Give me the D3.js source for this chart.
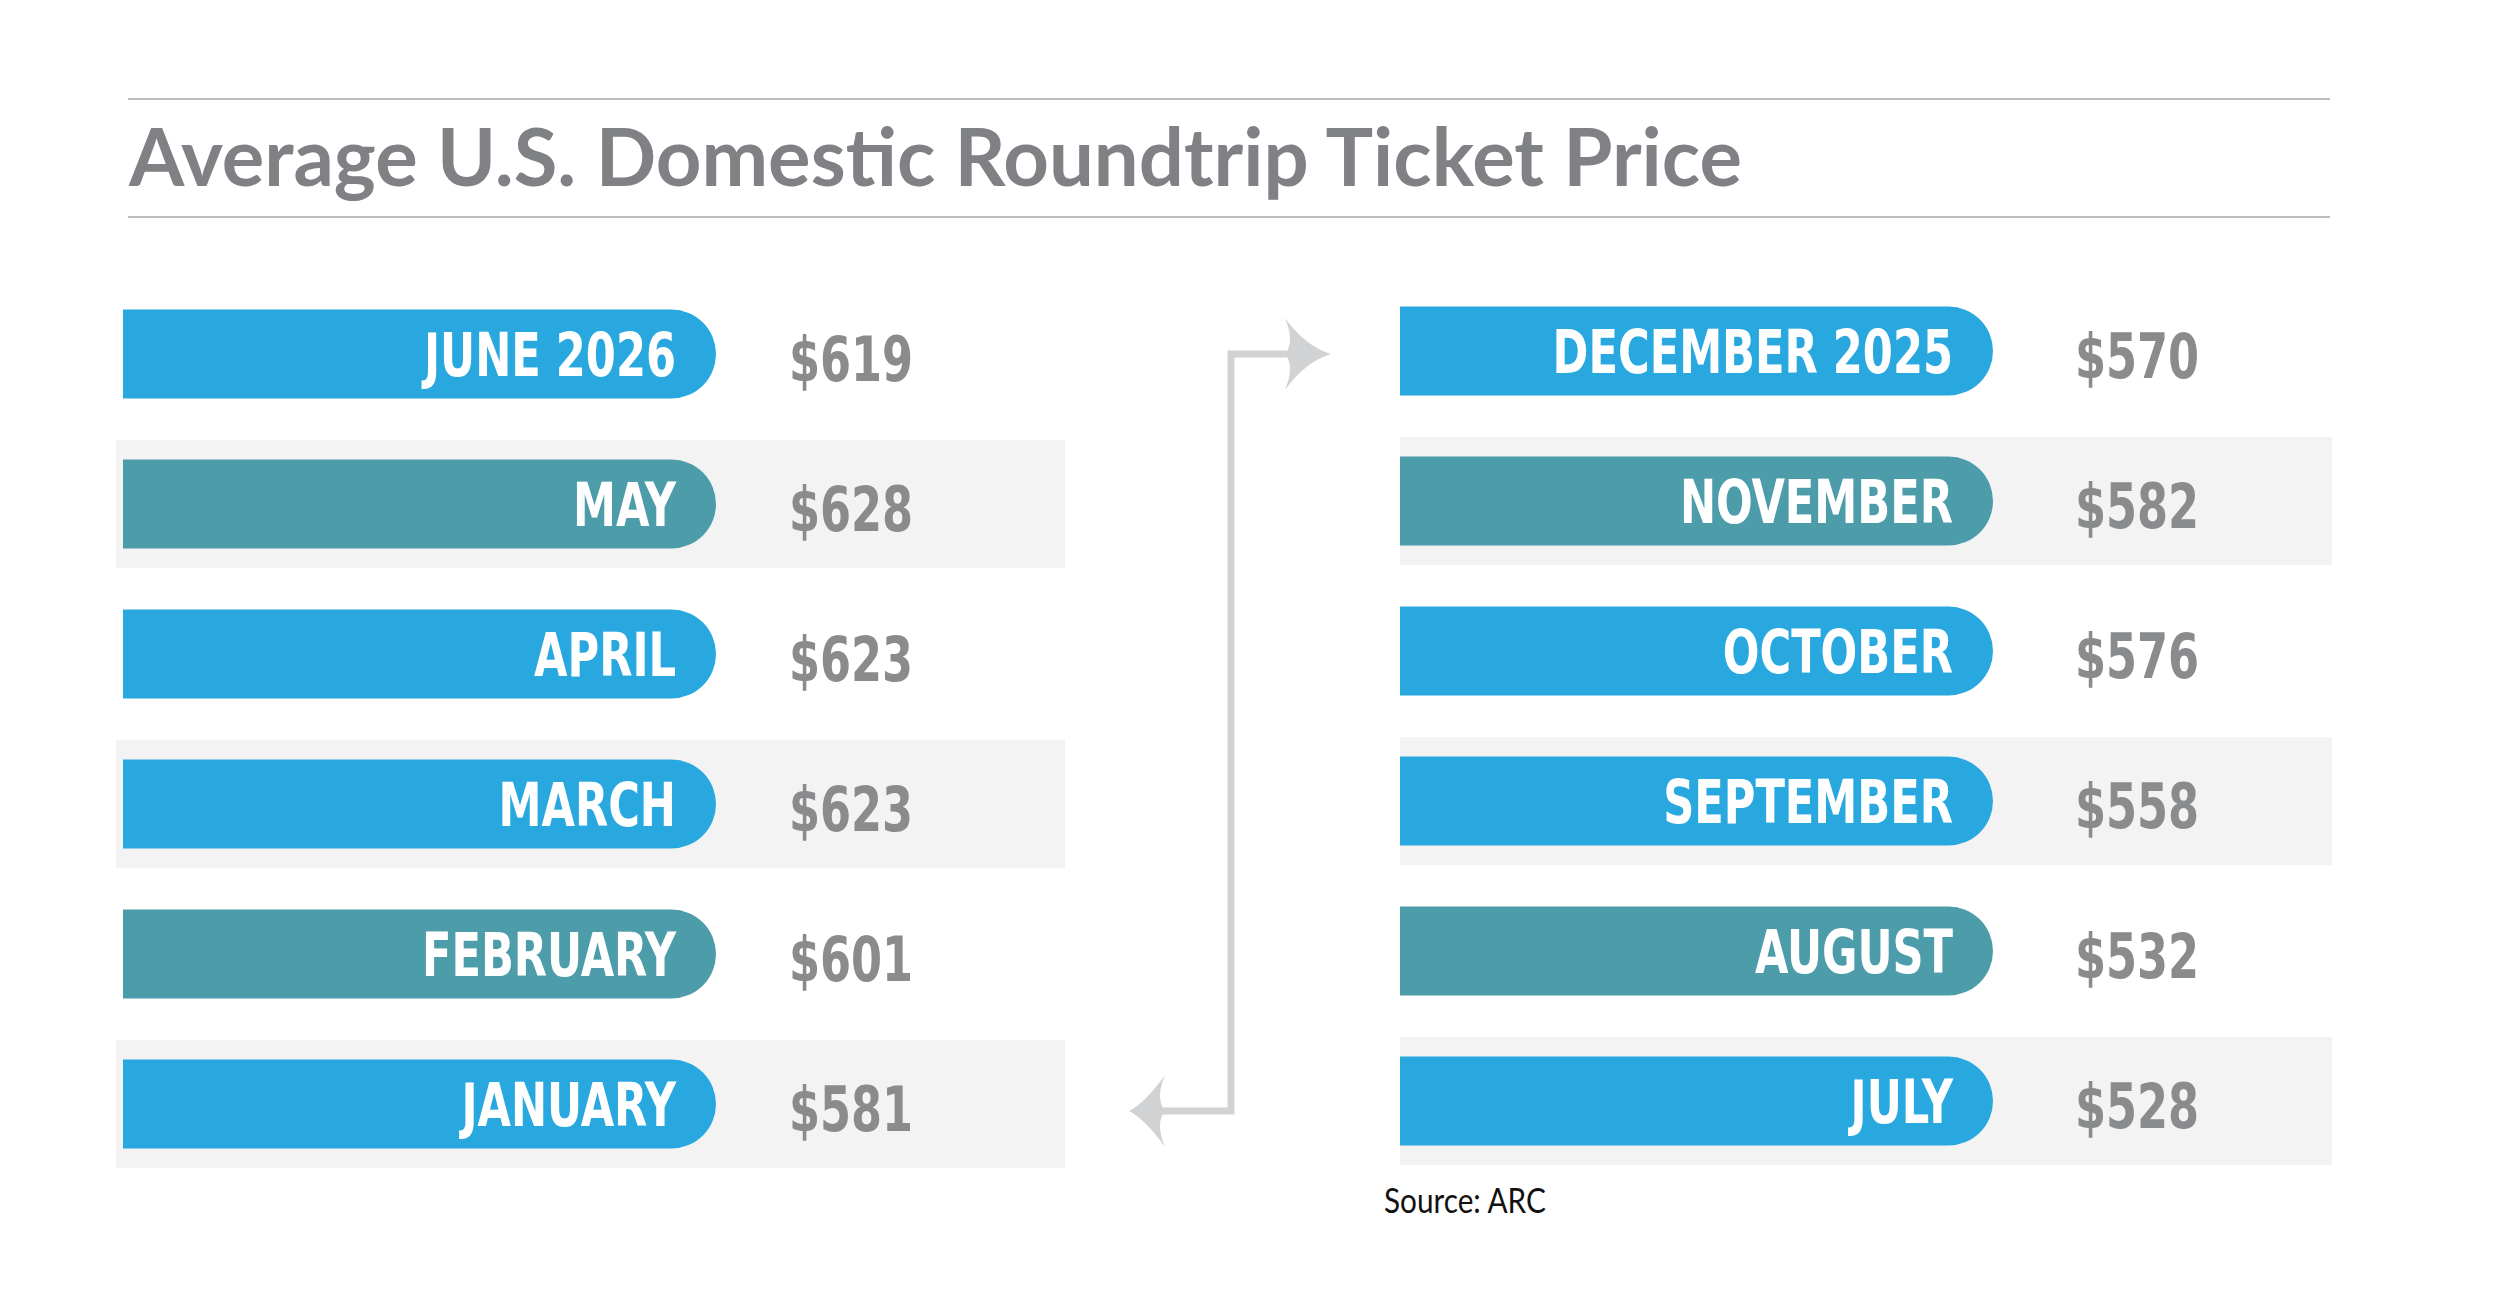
<!DOCTYPE html>
<html>
<head>
<meta charset="utf-8">
<script src="https://cdn.jsdelivr.net/npm/d3@7"></script>
<style>
  body { margin: 0; background: #fff; }
</style>
</head>
<body>
<svg id="chart"></svg>
<script>
// data, newest first in each column
const leftMonths = ['JUNE 2026', 'MAY', 'APRIL', 'MARCH', 'FEBRUARY', 'JANUARY'];
const leftPrices = [619, 628, 623, 623, 601, 581];
const rightMonths = ['DECEMBER 2025', 'NOVEMBER', 'OCTOBER', 'SEPTEMBER', 'AUGUST', 'JULY'];
const rightPrices = [570, 582, 576, 558, 532, 528];
const tealRows = [1, 4];

const W = 2500, H = 1292;
const BLUE = '#29a8e0', TEAL = '#4c9caa', BAND = '#f3f3f4';
const COND = '"DejaVu Sans Condensed", "DejaVu Sans", sans-serif';

const svg = d3.select('#chart').attr('width', W).attr('height', H);

// header rules + title
[99, 217].forEach(y => {
  svg.append('line').attr('x1', 128).attr('x2', 2330).attr('y1', y).attr('y2', y)
    .style('stroke', '#bcbdc0').style('stroke-width', 2);
});
svg.append('text').attr('x', 129).attr('y', 186)
  .style('font-family', 'Lato').style('font-weight', 700).style('font-size', '80px')
  .style('fill', '#808184').attr('textLength', 1613).attr('lengthAdjust', 'spacingAndGlyphs')
  .text('Average U.S. Domestic Roundtrip Ticket Price');

const rows = d3.scaleBand().domain(d3.range(6)).range([279, 1179]);

const barPath = (x0, x1, y, h) => {
  const r = h / 2;
  return `M${x0},${y}H${x1 - r}A${r},${r} 0 0 1 ${x1 - r},${y + h}H${x0}Z`;
};

// condensed text: squeeze horizontally around its anchor point
const squeezed = (g, cls, data, x, y, sx) => g.selectAll('.' + cls).data(data).enter()
  .append('g').attr('transform', d => `translate(${x},${y(d)}) scale(${sx},1)`)
  .append('text').attr('class', cls).attr('dy', '0.36em');

function column(months, prices, opt) {
  const g = svg.append('g');
  const data = months.map((m, i) => ({ m, p: prices[i], i }));
  const barH = 89, bandH = 128;
  const cy = i => rows(i) + rows.bandwidth() / 2 + opt.dy;

  g.selectAll('.band').data(data.filter(d => d.i % 2 === 1)).enter()
    .append('rect').attr('class', 'band')
    .attr('x', opt.bandX0).attr('width', opt.bandX1 - opt.bandX0)
    .attr('y', d => cy(d.i) - bandH / 2).attr('height', bandH)
    .style('fill', BAND);

  g.selectAll('.bar').data(data).enter()
    .append('path').attr('class', 'bar')
    .attr('d', d => barPath(opt.barX0, opt.barX1, cy(d.i) - barH / 2, barH))
    .style('fill', d => tealRows.includes(d.i) ? TEAL : BLUE);

  squeezed(g, 'lab', data, opt.barX1 - 40, d => cy(d.i), 0.8)
    .attr('text-anchor', 'end')
    .style('font-family', COND).style('font-weight', 700).style('font-size', '60px').style('fill', '#fff')
    .text(d => d.m);

  squeezed(g, 'val', data, opt.valX, d => cy(d.i) + 5, 0.8)
    .style('font-family', COND).style('font-weight', 700).style('font-size', '62px').style('fill', '#8a8b8d')
    .text(d => '$' + d.p);
}

column(leftMonths, leftPrices, { dy: 0, bandX0: 116, bandX1: 1065, barX0: 123, barX1: 716, valX: 789 });
column(rightMonths, rightPrices, { dy: -3, bandX0: 1400, bandX1: 2332, barX0: 1400, barX1: 1993, valX: 2075 });

// connector arrow
const ARROW = '#d1d2d4';
svg.append('path')
  .attr('d', 'M1315,354H1231V1111H1145')
  .style('fill', 'none').style('stroke', ARROW).style('stroke-width', 7);
svg.append('path')
  .attr('d', 'M1285,318 Q1305,346 1331,354 Q1305,362 1285,390 Q1295,366 1285,354 Q1295,342 1285,318Z')
  .style('fill', ARROW);
svg.append('path')
  .attr('d', 'M1165,1075 Q1145,1103 1129,1111 Q1145,1119 1165,1147 Q1155,1123 1165,1111 Q1155,1099 1165,1075Z')
  .style('fill', ARROW);

svg.append('g').attr('transform', 'translate(1384,1213) scale(0.85,1)')
  .append('text')
  .style('font-family', 'Lato').style('font-size', '35px').style('fill', '#111')
  .text('Source: ARC');
</script>
</body>
</html>
